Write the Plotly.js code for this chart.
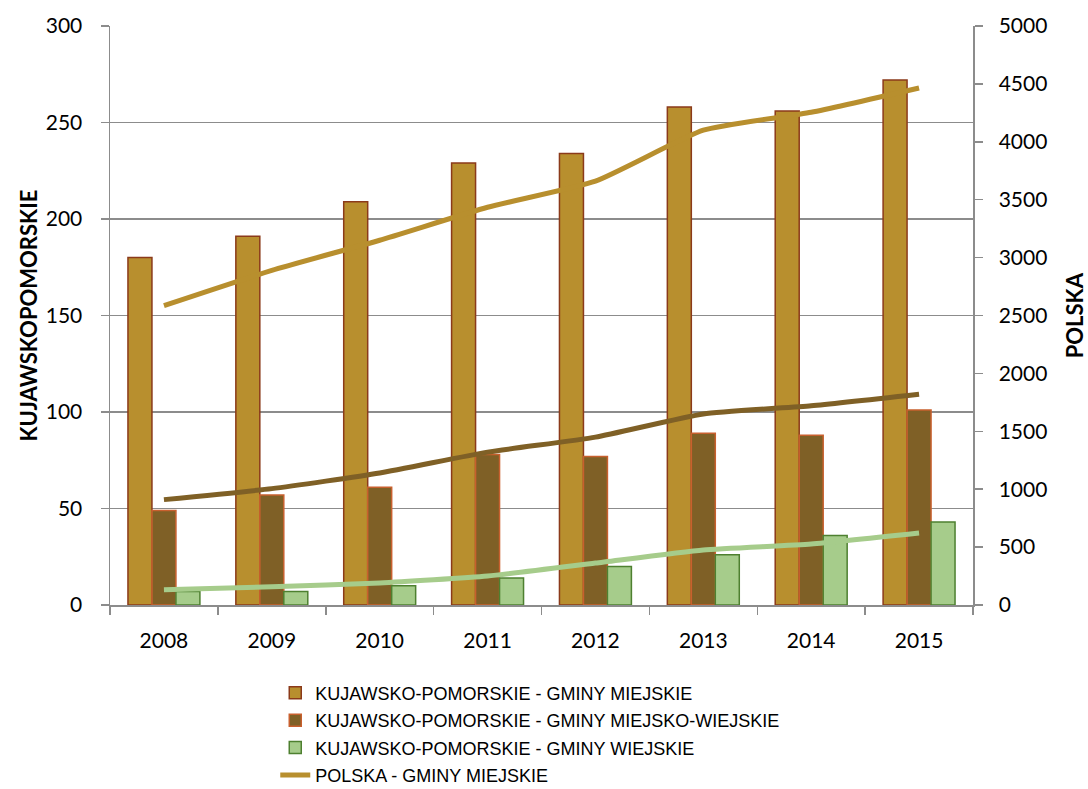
<!DOCTYPE html>
<html>
<head>
<meta charset="utf-8">
<script src="https://cdn.plot.ly/plotly-3.0.1.min.js"></script>
<style>html,body{margin:0;padding:0;background:#fff;}#chart{width:1088px;height:789px;}</style>
</head>
<body>
<div id="chart"></div>
<script>
const years = ['2008','2009','2010','2011','2012','2013','2014','2015'];
const kpMiejskie = [180, 191, 209, 229, 234, 258, 256, 272];
const kpMiejskoWiejskie = [49, 57, 61, 78, 77, 89, 88, 101];
const kpWiejskie = [7, 7, 10, 14, 20, 26, 36, 43];
const plMiejskie = [2585, 2890, 3150, 3435, 3660, 4100, 4255, 4465];
const plMiejskoWiejskie = [910, 1005, 1140, 1320, 1450, 1650, 1720, 1820];
const plWiejskie = [132, 158, 190, 250, 362, 475, 527, 622];

const names = [
  'KUJAWSKO-POMORSKIE - GMINY MIEJSKIE',
  'KUJAWSKO-POMORSKIE - GMINY MIEJSKO-WIEJSKIE',
  'KUJAWSKO-POMORSKIE - GMINY WIEJSKIE',
  'POLSKA - GMINY MIEJSKIE',
  'POLSKA - GMINY MIEJSKO-WIEJSKIE',
  'POLSKA - GMINY WIEJSKIE'
];
const leftTitle = 'KUJAWSKOPOMORSKIE';
const rightTitle = 'POLSKA';

const cGold = '#B88F2E', cBrown = '#7F6026', cGreen = '#A6CC8B';

const traces = [
  {type:'bar', x:years, y:kpMiejskie, name:names[0], legendgroup:'g1',
   marker:{color:cGold, line:{color:'#8B3A1A', width:1.5}}},
  {type:'bar', x:years, y:kpMiejskoWiejskie, name:names[1], legendgroup:'g2',
   marker:{color:cBrown, line:{color:'#C8602E', width:1.5}}},
  {type:'bar', x:years, y:kpWiejskie, name:names[2], legendgroup:'g3',
   marker:{color:cGreen, line:{color:'#4E8030', width:1.5}}},
  {type:'scatter', mode:'lines', x:years, y:plMiejskie, name:names[3], yaxis:'y2', legendgroup:'g4',
   line:{color:cGold, width:5, shape:'spline', smoothing:0.5}},
  {type:'scatter', mode:'lines', x:years, y:plMiejskoWiejskie, name:names[4], yaxis:'y2', showlegend:false,
   line:{color:cBrown, width:5, shape:'spline', smoothing:0.5}},
  {type:'scatter', mode:'lines', x:years, y:plWiejskie, name:names[5], yaxis:'y2', showlegend:false,
   line:{color:cGreen, width:5, shape:'spline', smoothing:0.5}}
];

const fam = 'Lato, "Liberation Sans", sans-serif';
const axisGray = '#8c8c8c';

const layout = {
  width:1088, height:789,
  margin:{l:110, r:115, t:26, b:184, autoexpand:false},
  paper_bgcolor:'#fff', plot_bgcolor:'#fff',
  font:{family:fam, color:'#000'},
  barmode:'group', bargap:0.333, bargroupgap:0,
  showlegend:true,
  legend:{xref:'container', yref:'container', x:0.253, xanchor:'left', y:0.145, yanchor:'top',
          orientation:'v', font:{family:'"Liberation Sans", Arial, sans-serif', size:18, color:'#000'},
          tracegroupgap:1, bgcolor:'rgba(0,0,0,0)'},
  xaxis:{type:'category', showline:true, linecolor:axisGray, linewidth:1.5,
         ticks:'outside', tickson:'boundaries', ticklen:8, tickcolor:axisGray, tickwidth:1.5,
         ticklabelstandoff:16,
         tickfont:{size:21, color:'#000'}, showgrid:false, zeroline:false},
  yaxis:{range:[0,300], dtick:50, showline:true, linecolor:axisGray, linewidth:1.5,
         ticks:'outside', ticklen:8, tickcolor:axisGray, tickwidth:1.5,
         showgrid:true, gridcolor:axisGray, gridwidth:1.5, zeroline:false,
         ticklabelstandoff:14,
         tickfont:{size:21, color:'#000'}},
  yaxis2:{range:[0,5000], dtick:500, overlaying:'y', side:'right', showline:true,
          linecolor:axisGray, linewidth:1.5, ticks:'outside', ticklen:8, tickcolor:axisGray, tickwidth:1.5,
          ticklabelstandoff:12,
          showgrid:false, zeroline:false, tickfont:{size:21, color:'#000'}},
  annotations:[
    {text:'<b>'+leftTitle+'</b>', xref:'paper', yref:'paper', x:-0.095, y:0.5, textangle:-90,
     showarrow:false, xanchor:'center', yanchor:'middle', font:{size:22, color:'#000', family:fam}},
    {text:'<b>'+rightTitle+'</b>', xref:'paper', yref:'paper', x:1.118, y:0.5, textangle:-90,
     showarrow:false, xanchor:'center', yanchor:'middle', font:{size:22, color:'#000', family:fam}}
  ]
};

Plotly.newPlot('chart', traces, layout, {displayModeBar:false, staticPlot:true});
</script>
</body>
</html>
